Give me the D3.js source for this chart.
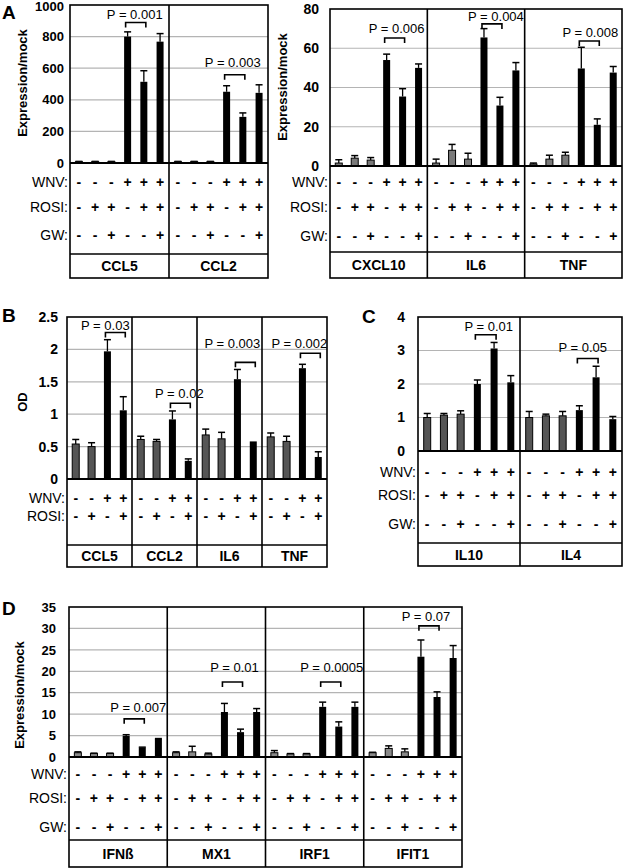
<!DOCTYPE html>
<html><head><meta charset="utf-8">
<script src="https://cdn.jsdelivr.net/npm/d3@7"></script>
<style>body{margin:0;background:#fff}svg{display:block;font-family:"Liberation Sans",Arial,sans-serif}</style>
</head><body><svg id="c" width="625" height="868"></svg>
<script>
// ---------- DATA ----------
const wnv6 = ["-","-","-","+","+","+"];
const rosi6 = ["-","+","+","-","+","+"];
const gw6 = ["-","-","+","-","-","+"];
const wnv4 = ["-","-","+","+"];
const rosi4 = ["-","+","-","+"];

const genesA1 = ["CCL5","CCL2"];
const valsA1 = [[8,8,8,800,514,768],[8,8,8,451,292,444]];
const errA1 = [[2,2,2,30,70,51],[2,2,2,38,25,51]];
const pA1 = [{t:"P = 0.001", y:889},{t:"P = 0.003", y:559}];

const genesA2 = ["CXCL10","IL6","TNF"];
const valsA2 = [[1.5,4,3,54,35.4,50],[1.5,8,3.5,65.5,30.8,48.7],[1,3.5,5.5,49.7,21,47.6]];
const errA2 = [[1.7,1.3,1.3,3,4,2],[2,3,3,4.5,4.2,4],[0.5,2,1.5,10.8,3,3.1]];
const pA2 = [{t:"P = 0.006", y:65.2},{t:"P = 0.004", y:72.4},{t:"P = 0.008", y:63.7}];

const genesB = ["CCL5","CCL2","IL6","TNF"];
const valsB = [[0.54,0.5,1.97,1.06],[0.61,0.58,0.92,0.28],[0.68,0.62,1.54,0.58],[0.65,0.58,1.71,0.34]];
const errB = [[0.07,0.06,0.18,0.21],[0.05,0.03,0.13,0.03],[0.09,0.1,0.15,0.0],[0.06,0.08,0.06,0.08]];
const pB = [{t:"P = 0.03", y:2.26},{t:"P = 0.02", y:1.17},{t:"P = 0.003", y:1.8},{t:"P = 0.002", y:1.94}];

const genesC = ["IL10","IL4"];
const valsC = [[1.0,1.07,1.1,2.0,3.06,2.05],[1.0,1.05,1.05,1.22,2.2,0.95]];
const errC = [[0.12,0.05,0.1,0.12,0.18,0.2],[0.18,0.05,0.13,0.13,0.33,0.08]];
const pC = [{t:"P = 0.01", y:3.47},{t:"P = 0.05", y:2.76}];

const genesD = ["IFNß","MX1","IRF1","IFIT1"];
const valsD = [[1,0.8,0.8,4.9,2.2,4.2],[1,1.2,0.7,10.5,5.8,10.5],[1,0.7,0.7,11.7,7.1,11.7],[1,2,1.2,23.4,14,23.1]];
const errD = [[0.2,0.1,0.1,0.3,0.1,0.1],[0.2,1.3,0.2,2,0.7,0.8],[0.5,0.1,0.1,1.1,1.1,1.1],[0.1,0.6,0.7,3.9,1.2,2.9]];
const pD = [{t:"P = 0.007", y:8.9},{t:"P = 0.01", y:17.5},{t:"P = 0.0005", y:17.5},{t:"P = 0.07", y:30.6}];

// ---------- LAYOUT ----------
const svg = d3.select("#c");

function panel(cfg) {
  const g = svg.append("g");
  const y = d3.scaleLinear().domain(cfg.domain).range([cfg.yZero, cfg.yTop]);
  const gx = d3.scaleBand().domain(cfg.genes).range([cfg.x0, cfg.x1]);
  const n = cfg.vals[0].length;
  const bx = d3.scalePoint().domain(d3.range(n)).range([0, gx.bandwidth()]).padding(0.55);
  const ticks = d3.range(cfg.domain[0], cfg.domain[1] + cfg.step/2, cfg.step);

  // grid
  g.selectAll("line.grid").data(ticks.slice(1, -1)).join("line")
    .attr("x1", cfg.x0).attr("x2", cfg.x1)
    .attr("y1", d => y(d)).attr("y2", d => y(d))
    .attr("stroke", "#b4b4b4").attr("stroke-width", 1.2);

  const bw = 7;
  cfg.genes.forEach((gene, gi) => {
    const ox = gx(gene);
    cfg.vals[gi].forEach((v, i) => {
      const cx = ox + bx(i);
      const pos = cfg.rows[0].vals[i] === "+";
      const e = cfg.errs[gi][i];
      if (e > 0) {
        g.append("line").attr("x1", cx).attr("x2", cx).attr("y1", y(v)).attr("y2", y(v + e))
          .attr("stroke", "#000").attr("stroke-width", 1.3);
        g.append("line").attr("x1", cx - 3.5).attr("x2", cx + 3.5).attr("y1", y(v + e)).attr("y2", y(v + e))
          .attr("stroke", "#000").attr("stroke-width", 1.5);
      }
      g.append("rect").attr("x", cx - bw/2).attr("y", y(v)).attr("width", bw)
        .attr("height", Math.max(0, cfg.yZero - y(v)))
        .attr("fill", pos ? "#000" : cfg.gray).attr("stroke", "#000").attr("stroke-width", pos ? 0 : 1);
    });
    // p-value annotation
    const p = cfg.p[gi];
    const [a, b] = cfg.pair;
    const xa = ox + bx(a) - 2, xb = ox + bx(b) + 2;
    const by = y(p.y);
    g.append("path").attr("d", `M${xa},${by + 5}V${by}H${xb}V${by + 5}`)
      .attr("fill", "none").attr("stroke", "#000").attr("stroke-width", 1.6);
    g.append("text").attr("x", (xa + xb)/2 + cfg.pdx[gi]).attr("y", by - cfg.pgap[gi] + 4.5)
      .attr("text-anchor", "middle").attr("font-size", 13).attr("fill", "#000").text(p.t);
    // table symbols
    cfg.rows.forEach(r => {
      r.vals.forEach((s, i) => {
        g.append("text").attr("x", ox + bx(i)).attr("y", r.y + 5)
          .attr("text-anchor", "middle").attr("font-size", 14).attr("font-weight", "bold").text(s);
      });
    });
    g.append("text").attr("x", ox + gx.bandwidth()/2).attr("y", (cfg.tableLine + cfg.bottom)/2 + 5)
      .attr("text-anchor", "middle").attr("font-size", 14).attr("font-weight", "bold").text(gene);
  });

  // row labels
  cfg.rows.forEach(r => {
    g.append("text").attr("x", cfg.x0 - 2).attr("y", r.y + 5).attr("text-anchor", "end")
      .attr("font-size", 14).text(r.label);
  });

  // frame & lines
  const fr = g.append("g").attr("stroke", "#000").attr("fill", "none");
  fr.append("rect").attr("x", cfg.x0).attr("y", cfg.yTop).attr("width", cfg.x1 - cfg.x0)
    .attr("height", cfg.bottom - cfg.yTop).attr("stroke-width", 1.6);
  fr.append("line").attr("x1", cfg.x0).attr("x2", cfg.x1).attr("y1", cfg.yZero).attr("y2", cfg.yZero).attr("stroke-width", 1.8);
  fr.append("line").attr("x1", cfg.x0).attr("x2", cfg.x1).attr("y1", cfg.tableLine).attr("y2", cfg.tableLine).attr("stroke-width", 1.6);
  cfg.genes.slice(1).forEach(gene => {
    fr.append("line").attr("x1", gx(gene)).attr("x2", gx(gene)).attr("y1", cfg.yTop).attr("y2", cfg.bottom).attr("stroke-width", 1.6);
  });

  // y axis
  const ax = g.append("g").attr("transform", `translate(${cfg.x0},0)`)
    .call(d3.axisLeft(y).tickValues(ticks).tickSize(0).tickPadding(cfg.tickPad).tickFormat(d => String(+d.toFixed(2))));
  ax.select(".domain").remove();
  ax.selectAll("text").attr("font-size", cfg.tickFont).attr("font-weight", "bold")
    .attr("font-family", '"Liberation Sans",Arial,sans-serif').attr("fill", "#000");
  if (cfg.topNudge) {
    ax.selectAll(".tick").filter(d => d === cfg.domain[1]).select("text").attr("dy", "0.45em");
  }

  if (cfg.title) {
    g.append("text").attr("transform", `translate(${cfg.title[1]},${cfg.title[2]}) rotate(-90)`)
      .attr("text-anchor", "middle").attr("font-size", 13).attr("font-weight", "bold").text(cfg.title[0]);
  }
  if (cfg.letter) {
    g.append("text").attr("x", cfg.letter[1]).attr("y", cfg.letter[2]).attr("font-size", 19)
      .attr("font-weight", "bold").text(cfg.letter[0]);
  }
}

panel({genes: genesA1, vals: valsA1, errs: errA1, p: pA1, pair: [3,4],
  pgap: [8,12], pdx: [-1,-2], gray: "#7a7a7a", topNudge: true,
  x0: 70, x1: 268, yTop: 5, yZero: 163, tableLine: 254, bottom: 278,
  domain: [0,1000], step: 200, tickPad: 6, tickFont: 13,
  rows: [{label:"WNV:", y:182, vals:wnv6},{label:"ROSI:", y:207, vals:rosi6},{label:"GW:", y:235, vals:gw6}],
  title: ["Expression/mock", 27, 83], letter: ["A", 2, 19]});

panel({genes: genesA2, vals: valsA2, errs: errA2, p: pA2, pair: [3,4],
  pgap: [10,7,8], pdx: [2,4,1], gray: "#7a7a7a",
  x0: 330, x1: 622, yTop: 9, yZero: 166, tableLine: 252, bottom: 278,
  domain: [0,80], step: 20, tickPad: 11, tickFont: 14,
  rows: [{label:"WNV:", y:182, vals:wnv6},{label:"ROSI:", y:207, vals:rosi6},{label:"GW:", y:236, vals:gw6}],
  title: ["Expression/mock", 287, 87]});

panel({genes: genesB, vals: valsB, errs: errB, p: pB, pair: [2,3],
  pgap: [7,10,19,10], pdx: [-10,-1,-13,-11], gray: "#555",
  x0: 67, x1: 327, yTop: 317, yZero: 479, tableLine: 545, bottom: 567,
  domain: [0,2.5], step: 0.5, tickPad: 9, tickFont: 14,
  rows: [{label:"WNV:", y:498, vals:wnv4},{label:"ROSI:", y:516, vals:rosi4}],
  title: ["OD", 27, 402], letter: ["B", 2, 322]});

panel({genes: genesC, vals: valsC, errs: errC, p: pC, pair: [3,4],
  pgap: [8,11], pdx: [3,-5], gray: "#555",
  x0: 418, x1: 622, yTop: 317, yZero: 451, tableLine: 543, bottom: 566,
  domain: [0,4], step: 1, tickPad: 13, tickFont: 14,
  rows: [{label:"WNV:", y:472, vals:wnv6},{label:"ROSI:", y:495, vals:rosi6},{label:"GW:", y:524, vals:gw6}],
  letter: ["C", 362, 323]});

panel({genes: genesD, vals: valsD, errs: errD, p: pD, pair: [3,4],
  pgap: [11,15,15,9], pdx: [4,2,1,-3], gray: "#8a8a8a",
  x0: 69, x1: 462, yTop: 607, yZero: 757, tableLine: 840, bottom: 867,
  domain: [0,35], step: 5, tickPad: 13, tickFont: 13,
  rows: [{label:"WNV:", y:774, vals:wnv6},{label:"ROSI:", y:798, vals:rosi6},{label:"GW:", y:827, vals:gw6}],
  title: ["Expression/mock", 24, 695], letter: ["D", 2, 615]});
</script></body></html>
